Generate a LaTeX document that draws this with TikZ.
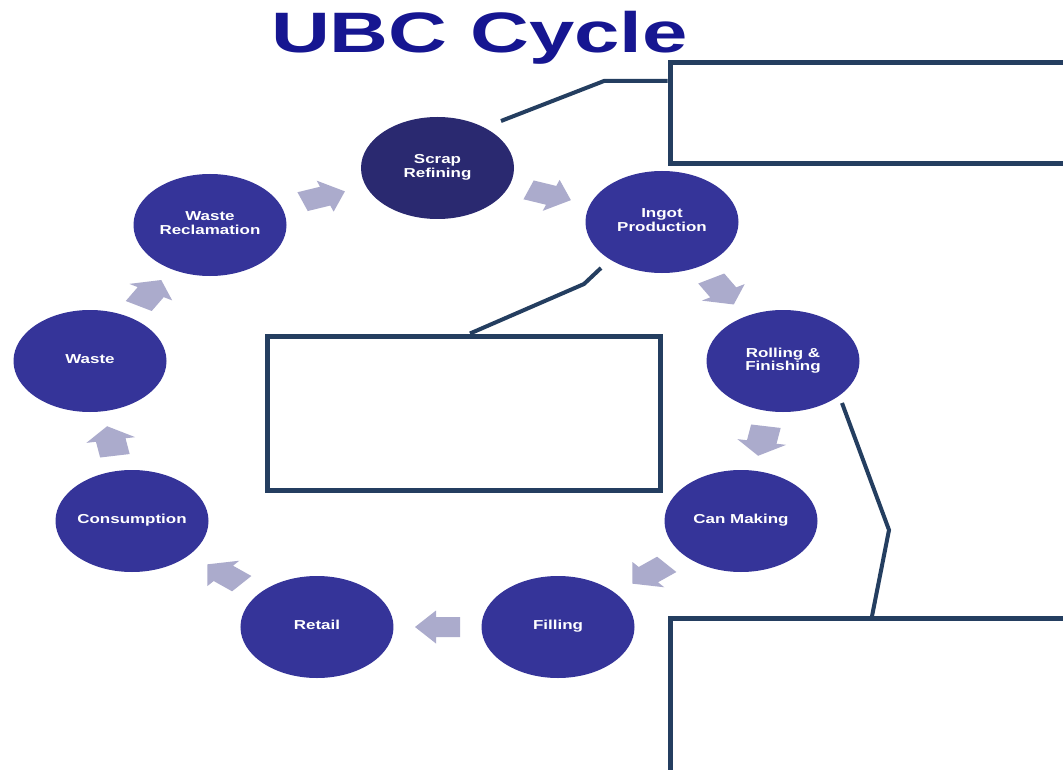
\documentclass[tikz,border=0pt]{standalone}
\usepackage{fontspec}
\setmainfont{Liberation Sans}
\usetikzlibrary{calc}
\definecolor{cyc}{RGB}{53,52,153}
\definecolor{cycdark}{RGB}{42,41,112}
\definecolor{arr}{RGB}{171,171,204}
\definecolor{conn}{RGB}{36,62,96}
\definecolor{ttl}{RGB}{22,22,145}
\newcommand\stagetext[1]{\scalebox{0.87}[1]{\begin{tabular}{@{}c@{}}#1\end{tabular}}}
\tikzset{
  stage/.style={circle, fill=cyc, minimum size=102pt, inner sep=0pt, text=white,
    align=center, font=\bfseries\fontsize{13}{13}\selectfont, transform shape},
  connline/.style={draw=conn, line width=4pt},
  infobox/.style={draw=conn, line width=5pt, fill=white, rectangle, inner sep=0pt},
  pics/cyclearrow/.style={code={
    \fill[arr] (-15,-10) -- (1,-10) -- (1,-16.5) -- (15,0) -- (1,16.5) -- (1,10) -- (-15,10) -- cycle;}},
}
\begin{document}
\begin{tikzpicture}[x=1pt,y=1pt]
\useasboundingbox (0,0) rectangle (1063,-770);
\clip (0,0) rectangle (1063,-770);
\fill[white] (0,0) rectangle (1063,-770);

% title
\node[anchor=base, text=ttl, inner sep=0pt, font=\bfseries\fontsize{57}{60}\selectfont] (title) at (479.5,-53) {\scalebox{1.43}[1]{UBC Cycle}};

% cycle stages (x given unstretched, stretched by 1.5)
\begin{scope}[xscale=1.5]
\node[stage, fill=cycdark] (scrap) at (291.67,-168) {\stagetext{Scrap\\Refining}};
\node[stage] (ingot) at (441.33,-222) {\stagetext{Ingot\\Production}};
\node[stage] (rolling) at (522,-361) {\stagetext{Rolling \&\\Finishing}};
\node[stage] (can) at (494,-521) {\stagetext{Can Making}};
\node[stage] (filling) at (372,-627) {\stagetext{Filling}};
\node[stage] (retail) at (211.33,-627) {\stagetext{Retail}};
\node[stage] (consumption) at (88,-521) {\stagetext{Consumption}};
\node[stage] (waste) at (60,-361) {\stagetext{Waste}};
\node[stage] (reclamation) at (140,-225) {\stagetext{Waste\\Reclamation}};
\end{scope}

% cycle arrows
\pic[xscale=1.5, rotate=20]   at ($(reclamation)!0.5!(scrap)$) {cyclearrow};
\pic[xscale=1.5, rotate=-20]  at ($(scrap)!0.5!(ingot)$) {cyclearrow};
\pic[xscale=1.5, rotate=-60]  at ($(ingot)!0.5!(rolling)$) {cyclearrow};
\pic[xscale=1.5, rotate=-100] at ($(rolling)!0.5!(can)$) {cyclearrow};
\pic[xscale=1.5, rotate=-140] at ($(can)!0.5!(filling)$) {cyclearrow};
\pic[xscale=1.5, rotate=180]  at ($(filling)!0.5!(retail)$) {cyclearrow};
\pic[xscale=1.5, rotate=140]  at ($(retail)!0.5!(consumption)$) {cyclearrow};
\pic[xscale=1.5, rotate=100]  at ($(consumption)!0.5!(waste)$) {cyclearrow};
\pic[xscale=1.5, rotate=60]   at ($(waste)!0.5!(reclamation)$) {cyclearrow};

% callout boxes
\node[infobox, minimum width=430pt, minimum height=101pt] (topbox) at (885,-113.5) {};
\node[infobox, minimum width=392.5pt, minimum height=154pt] (midbox) at (463.75,-413) {};
\node[infobox, minimum width=430pt, minimum height=181pt] (botbox) at (885,-709.2) {};

% callout connectors
\coordinate (c1a) at (501,-121);
\coordinate (c1b) at (604,-81);
\draw[connline] (c1a) -- (c1b) -- (c1b -| topbox.west);

\coordinate (c2a) at (601,-268);
\coordinate (c2b) at (584,-284);
\coordinate (c2c) at (470,-300);
\draw[connline] (c2a) -- (c2b) -- (c2c |- midbox.north);

\coordinate (c3a) at (842,-403);
\coordinate (c3b) at (889,-530);
\coordinate (c3c) at (872,-600);
\draw[connline] (c3a) -- (c3b) -- (c3c |- botbox.north);
\end{tikzpicture}
\end{document}
